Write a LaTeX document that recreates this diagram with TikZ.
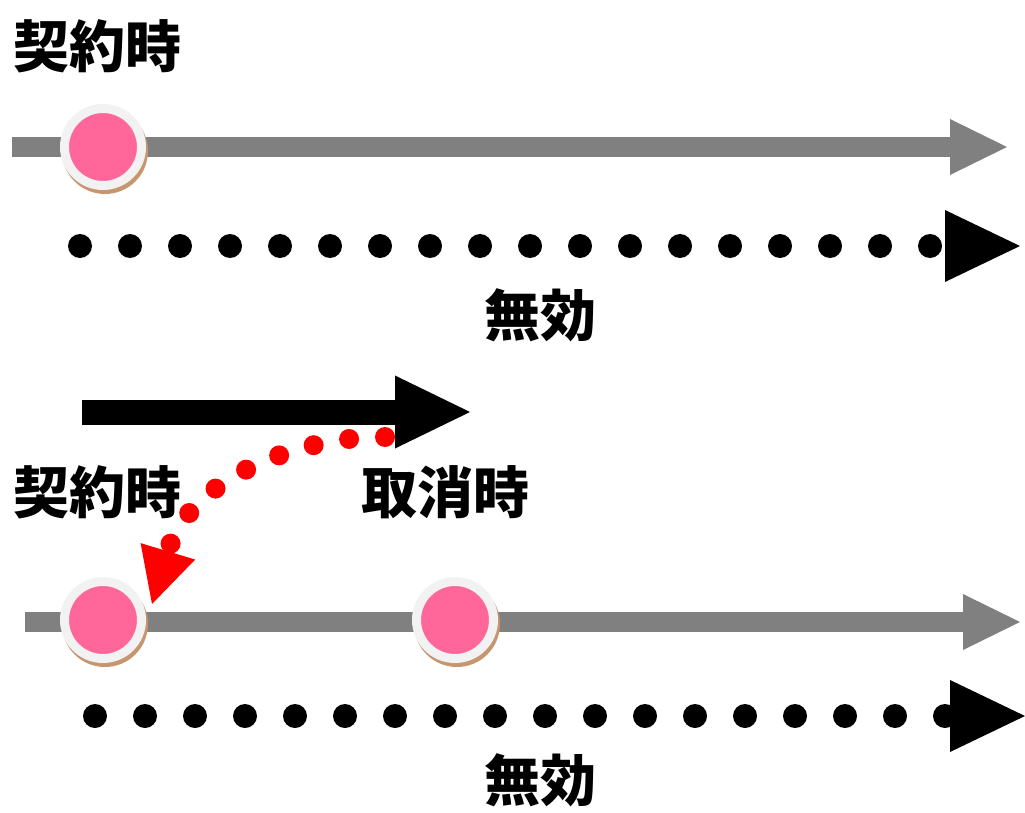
\documentclass[tikz,border=0pt]{standalone}
\usepackage{fontspec}
\newfontfamily\jp{Noto Sans CJK JP}
\usetikzlibrary{arrows.meta, positioning}
\definecolor{lineGray}{HTML}{808080}
\definecolor{spotPink}{HTML}{FF6699}
\definecolor{ringWhite}{HTML}{F2F2F2}
\definecolor{shadeBrown}{HTML}{C8966E}
\tikzset{
    spot/.style={circle, fill=spotPink, draw=ringWhite, line width=9pt, minimum size=77pt, inner sep=0pt,
        preaction={draw=shadeBrown, line width=9pt, transform canvas={xshift=2pt, yshift=-4pt}}},
    jptext/.style={font=\jp\bfseries\fontsize{56}{56}\selectfont, inner sep=0pt},
    timeline/.style={draw=lineGray, line width=20pt, -{Triangle[length=57pt, width=56pt, line width=0pt]}},
    dotline/.style={line width=24pt, line cap=round, dash pattern=on 0pt off 50pt, -{Triangle[length=75pt, width=72pt, line width=0pt]}},
}

\begin{document}
\begin{tikzpicture}[x=1pt, y=-1pt]
    \useasboundingbox (0,0) rectangle (1025,813);
    % upper case
    \node[jptext] (contractA) at (97,46) {契約時};
    \coordinate (lineAs) at (12,147);
    \coordinate (lineAe) at (1007,147);
    \draw[timeline] (lineAs)--(lineAe);
    \node[spot] (spotA) at (103,147) {};
    \coordinate (dotsAs) at (80,246);
    \coordinate (dotsAe) at (1020,246);
    \draw[dotline] (dotsAs)--(dotsAe);
    \node[jptext] (voidA) at (540,315) {無効};

    % lower case
    \coordinate (pushs) at (82,412);
    \coordinate (pushe) at (470,412);
    \draw[line width=25pt, -{Triangle[length=75pt, width=73pt, line width=0pt]}] (pushs)--(pushe);
    \node[jptext] (contractB) at (97,492) {契約時};
    \node[jptext] (cancelB) at (445,492) {取消時};
    \coordinate (lineBs) at (25,622);
    \coordinate (lineBe) at (1020,622);
    \draw[timeline] (lineBs)--(lineBe);
    \node[spot] (spotB) at (103,620) {};
    \node[spot] (spotC) at (455,620) {};
    \coordinate (backs) at (385,437);
    \coordinate (backe) at (152,604);
    \draw[red, line width=20pt, line cap=round, dash pattern=on 0pt off 36pt, -{Triangle[length=55pt, width=57pt, line width=0pt]}]
        (backs) .. controls (300,436) and (190,478) .. (backe);
    \coordinate (dotsBs) at (95,716);
    \coordinate (dotsBe) at (1025,716);
    \draw[dotline] (dotsBs)--(dotsBe);
    \node[jptext] (voidB) at (540,780) {無効};
\end{tikzpicture}
\end{document}
